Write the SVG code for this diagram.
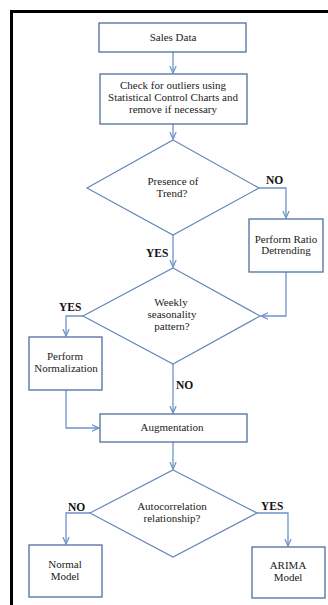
<svg xmlns="http://www.w3.org/2000/svg" width="328" height="605" viewBox="0 0 328 605">
  <style>
    .box { fill: #ffffff; stroke: #4f6f9f; stroke-width: 1.3; }
    .dia { fill: #ffffff; stroke: #6688bb; stroke-width: 1.2; }
    .edge { fill: none; stroke: #6f93c8; stroke-width: 1.3; }
    .t { font-family: "Liberation Serif", "Times New Roman", serif; font-size: 11px; fill: #222222; text-anchor: middle; }
    .lbl { font-family: "Liberation Serif", "Times New Roman", serif; font-size: 11.5px; font-weight: bold; fill: #111111; }
  </style>
  <defs>
    <marker id="arr" viewBox="0 0 10 10" refX="9" refY="5" markerWidth="6" markerHeight="6" orient="auto">
      <path d="M0,1 L9,5 L0,9" fill="none" stroke="#6f93c8" stroke-width="1.6"/>
    </marker>
  </defs>

  <rect x="0" y="0" width="328" height="605" fill="#ffffff"/>
  <!-- page frame -->
  <rect x="11.5" y="11.5" width="330" height="610" fill="none" stroke="#000000" stroke-width="3"/>

  <g id="connectors">
    <path class="edge" d="M173,52 V73" marker-end="url(#arr)"/>
    <path class="edge" d="M173,124 V139" marker-end="url(#arr)"/>
    <path class="edge" d="M259,188 H286 V218" marker-end="url(#arr)"/>
    <path class="edge" d="M173,235 V267" marker-end="url(#arr)"/>
    <path class="edge" d="M286,272 V316 H261" marker-end="url(#arr)"/>
    <path class="edge" d="M83,316 H66 V336" marker-end="url(#arr)"/>
    <path class="edge" d="M173,364 V413" marker-end="url(#arr)"/>
    <path class="edge" d="M66,390 V428 H99" marker-end="url(#arr)"/>
    <path class="edge" d="M173,442 V469" marker-end="url(#arr)"/>
    <path class="edge" d="M90,513 H66 V544" marker-end="url(#arr)"/>
    <path class="edge" d="M257,513 H288 V546" marker-end="url(#arr)"/>
  </g>

  <g id="sales-data">
    <rect class="box" x="99" y="23" width="147" height="29"/>
    <text class="t" x="173" y="41">Sales Data</text>
  </g>

  <g id="outliers">
    <rect class="box" x="100" y="74" width="147" height="50"/>
    <text class="t" x="173" y="89">Check for outliers using</text>
    <text class="t" x="173" y="101">Statistical Control Charts and</text>
    <text class="t" x="173" y="113">remove if necessary</text>
  </g>

  <g id="trend">
    <polygon class="dia" points="173,140 259,188 173,235 87,188"/>
    <text class="t" x="173" y="185">Presence of</text>
    <text class="t" x="172" y="197">Trend?</text>
    <text class="lbl" x="266" y="184">NO</text>
    <text class="lbl" x="146" y="257">YES</text>
  </g>

  <g id="ratio-detrending">
    <rect class="box" x="249" y="219" width="74" height="53"/>
    <text class="t" x="286" y="243">Perform Ratio</text>
    <text class="t" x="286" y="254">Detrending</text>
  </g>

  <g id="seasonality">
    <polygon class="dia" points="173,268 260,316 173,364 83,316"/>
    <text class="t" x="171" y="306">Weekly</text>
    <text class="t" x="172" y="318">seasonality</text>
    <text class="t" x="172" y="330">pattern?</text>
    <text class="lbl" x="59" y="311">YES</text>
    <text class="lbl" x="176" y="389">NO</text>
  </g>

  <g id="normalization">
    <rect class="box" x="29" y="337" width="73" height="53"/>
    <text class="t" x="65" y="360">Perform</text>
    <text class="t" x="66" y="372">Normalization</text>
  </g>

  <g id="augmentation">
    <rect class="box" x="100" y="414" width="147" height="28"/>
    <text class="t" x="172" y="431">Augmentation</text>
  </g>

  <g id="autocorrelation">
    <polygon class="dia" points="173,470 257,513 173,557 90,513"/>
    <text class="t" x="172" y="510">Autocorrelation</text>
    <text class="t" x="172" y="522">relationship?</text>
    <text class="lbl" x="68" y="511">NO</text>
    <text class="lbl" x="261" y="510">YES</text>
  </g>

  <g id="normal-model">
    <rect class="box" x="29" y="545" width="73" height="52"/>
    <text class="t" x="65" y="568">Normal</text>
    <text class="t" x="65" y="580">Model</text>
  </g>

  <g id="arima-model">
    <rect class="box" x="252" y="547" width="73" height="51"/>
    <text class="t" x="288" y="569">ARIMA</text>
    <text class="t" x="288" y="581">Model</text>
  </g>
</svg>
